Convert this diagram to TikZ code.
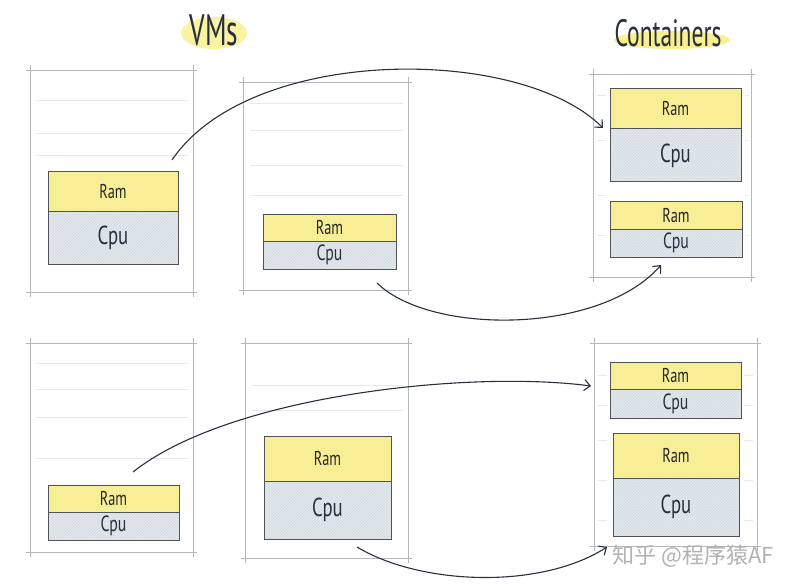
\documentclass[tikz,border=0pt]{standalone}
\usepackage{fontspec}
\setmainfont{PT Sans}
\newfontfamily\hand[FakeStretch=0.72]{PT Sans}
\newfontfamily\titlefont[FakeStretch=0.62]{PT Sans}
\newfontfamily\cjk{Noto Sans CJK SC}
\usetikzlibrary{arrows.meta,patterns}
\definecolor{ramY}{RGB}{247,238,150}
\definecolor{cpuB}{RGB}{228,233,238}
\definecolor{cpuH}{RGB}{208,214,222}
\definecolor{edgeD}{RGB}{80,82,88}
\definecolor{hostG}{RGB}{180,183,188}
\definecolor{faintG}{RGB}{230,232,235}
\definecolor{arrowN}{RGB}{40,48,62}
\definecolor{hiY}{RGB}{248,230,70}
\definecolor{wmG}{RGB}{178,178,178}
\newcommand\sketchbox[1]{%
  \draw[hostline] ([xshift=-4pt]#1.north west) -- ([xshift=4pt]#1.north east);
  \draw[hostline] ([xshift=-4pt]#1.south west) -- ([xshift=4pt]#1.south east);
  \draw[hostline] ([yshift=5pt]#1.north west) -- ([yshift=-5pt]#1.south west);
  \draw[hostline] ([yshift=5pt]#1.north east) -- ([yshift=-5pt]#1.south east);}
\begin{document}
\begin{tikzpicture}[x=1pt,y=-1pt,
  hostline/.style={draw=hostG, line width=0.9pt},
  host/.style={inner sep=0pt, outer sep=0pt},
  faint/.style={draw=faintG, line width=0.8pt},
  ram/.style={draw=edgeD, line width=1pt, fill=ramY, inner sep=0pt, outer sep=0pt,
    text=black!85, font=\hand\fontsize{20}{20}\selectfont},
  cpu/.style={draw=edgeD, line width=1pt, preaction={fill=cpuB},
    preaction={pattern=north east lines, pattern color=cpuH},
    inner sep=0pt, outer sep=0pt, text=arrowN,
    font=\hand\fontsize{22}{22}\selectfont},
  bigtxt/.style={font=\hand\fontsize{26}{26}\selectfont},
  conn/.style={draw=arrowN, line width=1.1pt, -{Straight Barb[length=6pt,width=11pt]}},
  title/.style={text=arrowN}]
\useasboundingbox (0,0) rectangle (800,588);
\fill[white] (0,0) rectangle (800,588);

% titles
\fill[hiY, opacity=.5] (214,33) ellipse (33 and 16);
\fill[hiY, opacity=.6] (672,40) ellipse (58 and 9);
\node[title, font=\titlefont\fontsize{44}{44}\selectfont] (tvm) at (214,30) {VMs};
\node[title, font=\titlefont\fontsize{38}{38}\selectfont] (tct) at (668,33) {Containers};

% hosts
\node[host, minimum width=163pt, minimum height=222pt] (h1) at (111.5,181) {};
\node[host, minimum width=165pt, minimum height=208pt] (h2) at (325.5,186) {};
\node[host, minimum width=158pt, minimum height=203pt] (ch1) at (672,175.5) {};
\node[host, minimum width=163pt, minimum height=209pt] (h3) at (111.5,447.5) {};
\node[host, minimum width=163pt, minimum height=215pt] (h4) at (326.5,450.5) {};
\node[host, minimum width=163pt, minimum height=203pt] (ch2) at (675.5,444.5) {};
\sketchbox{h1}\sketchbox{h2}\sketchbox{ch1}\sketchbox{h3}\sketchbox{h4}\sketchbox{ch2}

% faint ruling lines
\foreach \y in {100,133,155} \draw[faint] (36,\y) -- (188,\y);
\foreach \y in {103,130,165,195} \draw[faint] (250,\y) -- (403,\y);
\foreach \y in {363,389,417,458} \draw[faint] (36,\y) -- (188,\y);
\foreach \y in {385,410} \draw[faint] (252,\y) -- (403,\y);
\foreach \y in {95,140,195,235} {\draw[faint] (597,\y) -- (606,\y); \draw[faint] (745,\y) -- (749,\y);}
\foreach \y in {375,405,440,480,520} {\draw[faint] (598,\y) -- (607,\y); \draw[faint] (744,\y) -- (753,\y);}

% blocks
\node[ram, minimum width=130pt, minimum height=39pt] (r1) at (113,191.5) {Ram};
\node[cpu, bigtxt, minimum width=130pt, minimum height=53pt] (p1) at (113,237.5) {Cpu};
\node[ram, minimum width=133pt, minimum height=27pt] (r2) at (329.5,227.5) {Ram};
\node[cpu, minimum width=133pt, minimum height=28pt] (p2) at (329.5,255) {Cpu};
\node[ram, minimum width=131pt, minimum height=40pt] (r3) at (675.5,109) {Ram};
\node[cpu, bigtxt, minimum width=131pt, minimum height=53pt] (p3) at (675.5,155.5) {Cpu};
\node[ram, minimum width=132pt, minimum height=27pt] (r4) at (676,215.5) {Ram};
\node[cpu, minimum width=132pt, minimum height=28pt] (p4) at (676,243) {Cpu};
\node[ram, minimum width=131pt, minimum height=27pt] (r5) at (113.5,498.5) {Ram};
\node[cpu, minimum width=131pt, minimum height=28pt] (p5) at (113.5,526) {Cpu};
\node[ram, minimum width=127pt, minimum height=45pt] (r6) at (327.5,458.5) {Ram};
\node[cpu, bigtxt, minimum width=127pt, minimum height=58pt] (p6) at (327.5,510) {Cpu};
\node[ram, minimum width=131pt, minimum height=27pt] (r7) at (675.5,375.5) {Ram};
\node[cpu, minimum width=131pt, minimum height=29pt] (p7) at (675.5,403.5) {Cpu};
\node[ram, minimum width=126pt, minimum height=45pt] (r8) at (676,455.5) {Ram};
\node[cpu, bigtxt, minimum width=126pt, minimum height=58pt] (p8) at (676,507) {Cpu};

% arrow end points
\coordinate (s1) at (172,160);
\coordinate (e1) at (603,128);
\coordinate (s2) at (377,283);
\coordinate (e2) at (661,265);
\coordinate (s3) at (133,472);
\coordinate (e3) at (591,386);
\coordinate (s4) at (357,547);
\coordinate (e4) at (607,547);

\draw[conn] (s1) .. controls (250,45) and (520,45) .. (e1);
\draw[conn] (s2) .. controls (430,335) and (600,335) .. (e2);
\draw[conn] (s3) .. controls (230,395) and (470,370) .. (e3);
\draw[conn] (s4) .. controls (420,585) and (540,590) .. (e4);

% watermark
\node[font=\cjk\fontsize{22}{22}\selectfont, text=wmG] (wm) at (693,556) {知乎 @程序猿AF};
\end{tikzpicture}
\end{document}
